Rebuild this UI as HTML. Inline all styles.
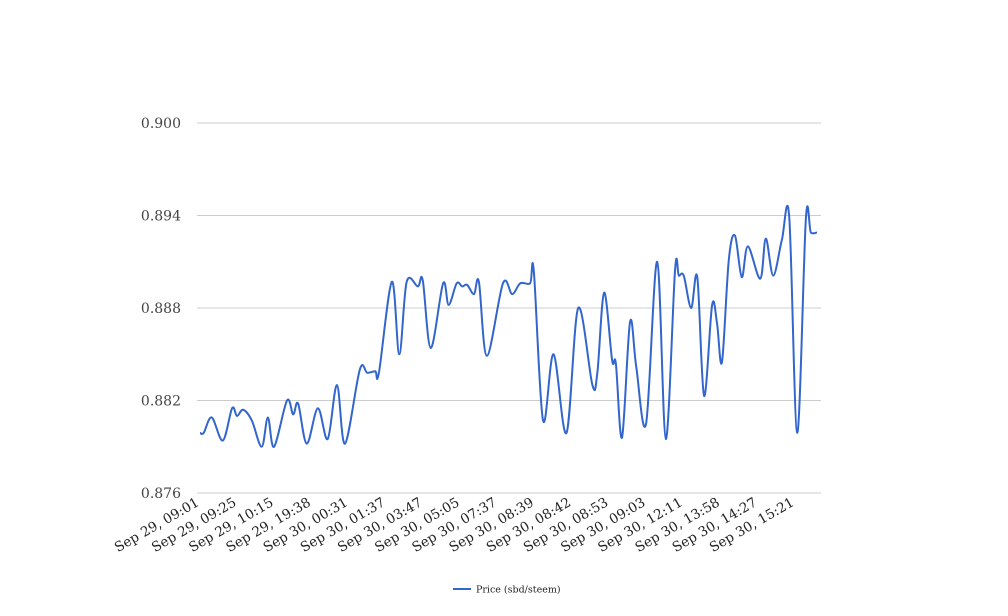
<!DOCTYPE html>
<html><head><meta charset="utf-8"><style>
body{margin:0;background:#fff;}
svg{display:block;font-family:"DejaVu Serif","Liberation Serif",serif;}
</style></head><body>
<svg id="chart" width="1008" height="616" viewBox="0 0 1008 616" xmlns="http://www.w3.org/2000/svg">
<g id="grid"></g>
<g id="yaxis"></g>
<g id="xaxis"></g>
<g id="series"></g>
<g>
<line x1="453" y1="589" x2="471" y2="589" stroke="#3366cc" stroke-width="2"/>
<text x="476" y="592.5" font-size="9.5" fill="#222">Price (sbd/steem)</text>
</g>
</svg>
<script>
const categories=["Sep 29, 09:01","Sep 29, 09:25","Sep 29, 10:15","Sep 29, 19:38","Sep 30, 00:31","Sep 30, 01:37","Sep 30, 03:47","Sep 30, 05:05","Sep 30, 07:37","Sep 30, 08:39","Sep 30, 08:42","Sep 30, 08:53","Sep 30, 09:03","Sep 30, 12:11","Sep 30, 13:58","Sep 30, 14:27","Sep 30, 15:21"];
const yTicks=[0.876,0.882,0.888,0.894,0.900];
const sampleTime=[0,0.6,1.9,3.7,5.2,6.0,7.0,8.4,10.0,11.0,12.0,14.1,15.1,15.9,17.3,19.1,20.7,22.2,23.5,25.9,27.1,28.4,29.0,31.1,32.3,33.5,35.3,36.1,37.4,39.4,40.3,41.6,42.5,43.3,44.4,45.2,46.5,49.1,50.6,51.9,53.5,54.1,55.6,57.3,59.4,61.3,63.6,64.4,65.5,66.8,67.4,68.4,69.7,70.7,72.3,74.1,75.5,77.0,77.6,78.4,79.6,80.6,81.7,83.0,83.8,84.6,85.7,86.7,87.8,88.8,90.8,91.7,92.9,94.3,95.5,96.8,98.2,99.0,100];
const priceValues=[0.8799,0.8799,0.8809,0.8794,0.8815,0.8810,0.8814,0.8807,0.8790,0.8809,0.8790,0.8820,0.8811,0.8818,0.8792,0.8815,0.8795,0.8830,0.8792,0.8840,0.8838,0.8839,0.8838,0.8897,0.8850,0.8897,0.8894,0.8898,0.8854,0.8896,0.8882,0.8896,0.8894,0.8895,0.8889,0.8897,0.8849,
0.8896,0.8889,0.8896,0.8896,0.8904,0.8807,0.8850,0.8799,0.8880,0.8830,0.8838,0.8890,0.8846,0.8844,0.8796,0.8871,0.8842,0.8805,0.8910,0.8795,0.8905,0.8901,0.8901,0.8880,0.8900,0.8823,0.8882,0.8870,0.8845,0.8911,0.8927,0.8900,0.8920,0.8899,0.8925,0.8901,0.8924,0.8939,0.8799,0.8938,0.8929,0.8929];

const NS="http://www.w3.org/2000/svg";
const plot={left:197,right:821,top:123,bottom:493};
const yMin=0.876,yMax=0.900;
const yScale=v=>plot.bottom-(v-yMin)/(yMax-yMin)*(plot.bottom-plot.top);
const xScale=t=>200+t/100*617;
function mk(tag,attrs,parent){const e=document.createElementNS(NS,tag);for(const k in attrs)e.setAttribute(k,attrs[k]);parent.appendChild(e);return e;}
const grid=document.getElementById('grid'),yax=document.getElementById('yaxis'),xax=document.getElementById('xaxis'),ser=document.getElementById('series');
yTicks.forEach(v=>{
  const y=yScale(v);
  const l=mk('line',{x1:plot.left,x2:plot.right,y1:y,y2:y,stroke:'#cccccc','stroke-width':1},grid);
  
  
  const t=mk('text',{x:181,y:y+5,'text-anchor':'end','font-size':14,fill:'#444'},yax);
  
  
  t.textContent=v.toFixed(3);
});
const step=(795-200)/(categories.length-1);
categories.forEach((c,i)=>{
  const x=200+i*step, y=505;
  const t=mk('text',{x:x,y:y,'text-anchor':'end','font-size':13.5,fill:'#222',transform:`rotate(-30 ${x} ${y})`},xax);
  
  
  t.textContent=c;
});
const pts=sampleTime.map((t,i)=>[xScale(t),yScale(priceValues[i])]);
let d=`M${pts[0][0]},${pts[0][1]}`;
for(let i=0;i<pts.length-1;i++){
  const p0=pts[Math.max(0,i-1)],p1=pts[i],p2=pts[i+1],p3=pts[Math.min(pts.length-1,i+2)];
  const k=0.5/3;
  const c1=[p1[0]+(p2[0]-p0[0])*k,p1[1]+(p2[1]-p0[1])*k];
  const c2=[p2[0]-(p3[0]-p1[0])*k,p2[1]-(p3[1]-p1[1])*k];
  d+=` C${c1[0]},${c1[1]} ${c2[0]},${c2[1]} ${p2[0]},${p2[1]}`;
}
const path=mk('path',{d:d,fill:'none',stroke:'#3366cc','stroke-width':2,'stroke-linejoin':'round'},ser);


</script>
</body></html>
